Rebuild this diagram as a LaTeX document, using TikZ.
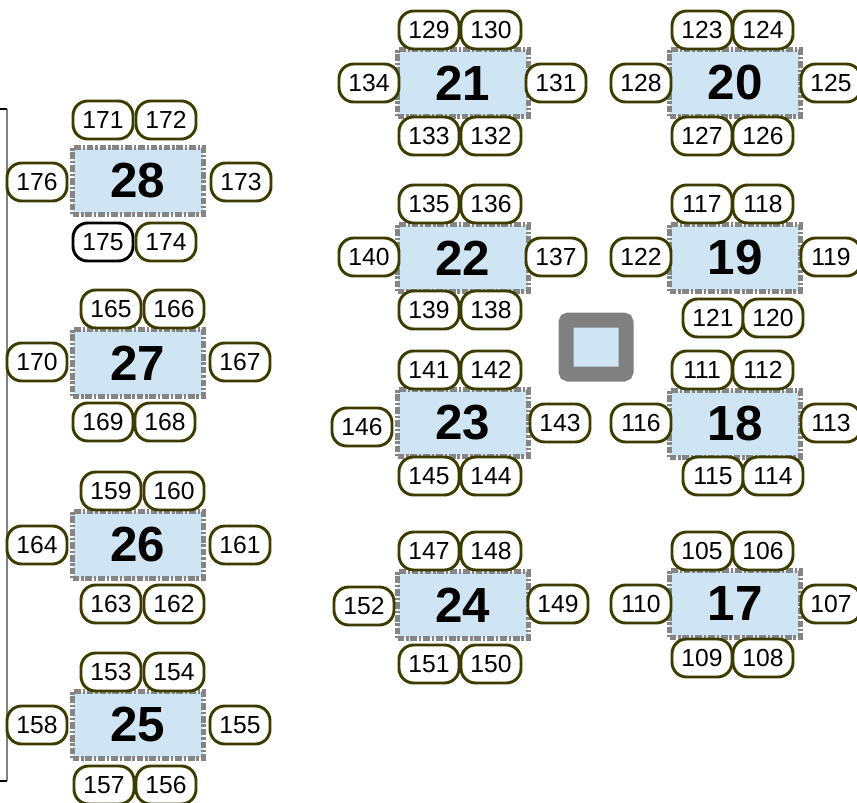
\documentclass[tikz,border=0pt]{standalone}
\usepackage{fontspec}
\setmainfont{Liberation Sans}
\definecolor{seatline}{HTML}{3D3C00}
\definecolor{tablefill}{HTML}{D0E5F3}
\definecolor{tableline}{HTML}{858585}
\tikzstyle{table}=[draw=tableline, fill=tablefill, line width=3.4pt, dash pattern=on 5pt off 1.4pt on 1.8pt off 1.4pt, minimum width=98pt, minimum height=50pt, inner sep=0pt, font=\fontsize{37}{39}\selectfont\bfseries]
\tikzstyle{seat}=[draw=seatline, fill=white, line width=2.2pt, rounded corners=11pt, minimum width=45pt, minimum height=28.5pt, inner sep=0pt, font=\fontsize{18.5}{20}\selectfont]
\tikzstyle{post}=[draw=gray, fill=tablefill, line width=11.25pt, rounded corners=2pt, minimum width=45pt, minimum height=40.5pt]

\begin{document}
\begin{tikzpicture}[x=0.75pt,y=-0.75pt]
	\useasboundingbox (0,0) rectangle (857,803);

	% wall on the left
	\draw[gray, line width=1.1pt] (7,109) -- (7,781);
	\draw[black, line width=1.1pt] (0,109) -- (7,109);
	\draw[black, line width=1.1pt] (0,781) -- (7,781);

	% tables
	\node[table] (t28) at (138,181) {28};
	\node[table] (t27) at (138,363) {27};
	\node[table] (t26) at (138,545) {26};
	\node[table] (t25) at (138,725) {25};
	\node[table] (t21) at (463,83) {21};
	\node[table] (t22) at (463,258) {22};
	\node[table] (t23) at (463,423) {23};
	\node[table] (t24) at (463,605) {24};
	\node[table] (t20) at (735,83) {20};
	\node[table] (t19) at (735,258) {19};
	\node[table] (t18) at (735,424) {18};
	\node[table] (t17) at (735,604) {17};

	\node[post] (p1) at (596,347) {};

	% seats, table 28
	\node[seat] (s171) at (103,120) {171};
	\node[seat] (s172) at (166,120) {172};
	\node[seat] (s173) at (241,182) {173};
	\node[seat] (s176) at (37,182) {176};
	\node[seat, draw=black] (s175) at (103,242) {175};
	\node[seat] (s174) at (166,242) {174};
	% table 27
	\node[seat] (s165) at (111,309) {165};
	\node[seat] (s166) at (174,309) {166};
	\node[seat] (s167) at (240,362) {167};
	\node[seat] (s170) at (37,362) {170};
	\node[seat] (s169) at (103,422) {169};
	\node[seat] (s168) at (165,422) {168};
	% table 26
	\node[seat] (s159) at (111,491) {159};
	\node[seat] (s160) at (174,491) {160};
	\node[seat] (s161) at (240,545) {161};
	\node[seat] (s164) at (37,545) {164};
	\node[seat] (s163) at (111,604) {163};
	\node[seat] (s162) at (174,604) {162};
	% table 25
	\node[seat] (s153) at (111,672) {153};
	\node[seat] (s154) at (174,672) {154};
	\node[seat] (s155) at (240,725) {155};
	\node[seat] (s158) at (37,725) {158};
	\node[seat] (s157) at (104,785) {157};
	\node[seat] (s156) at (166,785) {156};
	% table 21
	\node[seat] (s129) at (429,30) {129};
	\node[seat] (s130) at (491,30) {130};
	\node[seat] (s131) at (556,83) {131};
	\node[seat] (s134) at (369,83) {134};
	\node[seat] (s133) at (429,136) {133};
	\node[seat] (s132) at (491,136) {132};
	% table 22
	\node[seat] (s135) at (429,204) {135};
	\node[seat] (s136) at (491,204) {136};
	\node[seat] (s137) at (556,257) {137};
	\node[seat] (s140) at (369,257) {140};
	\node[seat] (s139) at (429,310) {139};
	\node[seat] (s138) at (491,310) {138};
	% table 23
	\node[seat] (s141) at (429,370) {141};
	\node[seat] (s142) at (491,370) {142};
	\node[seat] (s143) at (560,423) {143};
	\node[seat] (s146) at (362,427) {146};
	\node[seat] (s145) at (429,476) {145};
	\node[seat] (s144) at (491,476) {144};
	% table 24
	\node[seat] (s147) at (429,551) {147};
	\node[seat] (s148) at (491,551) {148};
	\node[seat] (s149) at (558,604) {149};
	\node[seat] (s152) at (364,606) {152};
	\node[seat] (s151) at (429,664) {151};
	\node[seat] (s150) at (491,664) {150};
	% table 20
	\node[seat] (s123) at (702,30) {123};
	\node[seat] (s124) at (763,30) {124};
	\node[seat] (s125) at (831,83) {125};
	\node[seat] (s128) at (641,83) {128};
	\node[seat] (s127) at (702,136) {127};
	\node[seat] (s126) at (763,136) {126};
	% table 19
	\node[seat] (s117) at (702,204) {117};
	\node[seat] (s118) at (763,204) {118};
	\node[seat] (s119) at (831,257) {119};
	\node[seat] (s122) at (641,257) {122};
	\node[seat] (s121) at (713,318) {121};
	\node[seat] (s120) at (773,318) {120};
	% table 18
	\node[seat] (s111) at (702,370) {111};
	\node[seat] (s112) at (763,370) {112};
	\node[seat] (s113) at (831,423) {113};
	\node[seat] (s116) at (641,423) {116};
	\node[seat] (s115) at (713,476) {115};
	\node[seat] (s114) at (773,476) {114};
	% table 17
	\node[seat] (s105) at (702,551) {105};
	\node[seat] (s106) at (763,551) {106};
	\node[seat] (s107) at (831,604) {107};
	\node[seat] (s110) at (641,604) {110};
	\node[seat] (s109) at (702,658) {109};
	\node[seat] (s108) at (763,658) {108};
\end{tikzpicture}
\end{document}
